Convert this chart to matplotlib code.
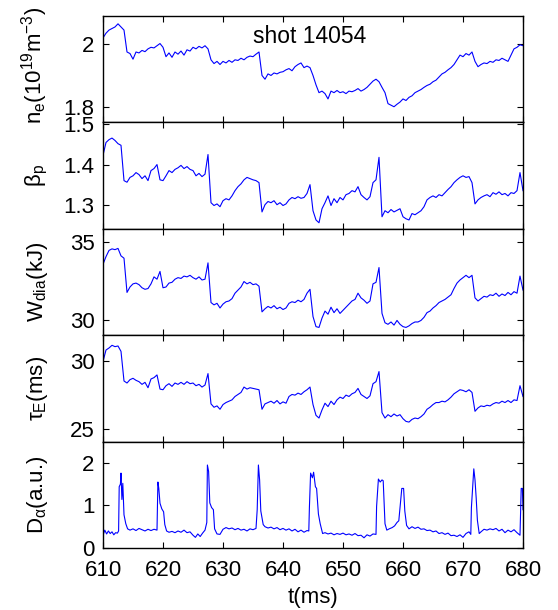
import numpy as np
import matplotlib
matplotlib.use("Agg")
import matplotlib.pyplot as plt

plt.rcParams['font.family'] = ['Liberation Sans', 'DejaVu Sans']
plt.rcParams['mathtext.fontset'] = 'custom'
plt.rcParams['mathtext.rm'] = 'Liberation Sans'
plt.rcParams['mathtext.it'] = 'Liberation Sans'
plt.rcParams['mathtext.default'] = 'regular'

# sampling times (ms) for the four smooth signals
t = np.arange(610.0, 680.01, 0.5)

ne = [2.020, 2.035, 2.045, 2.050, 2.055, 2.065, 2.055, 2.045, 1.975, 1.970,
      1.952, 1.975, 1.972, 1.980, 1.976, 1.985, 1.990, 1.988, 1.995, 2.002,
      1.990, 1.960, 1.972, 1.958, 1.975, 1.968, 1.978, 1.965, 1.982, 1.978,
      1.990, 1.985, 1.993, 1.988, 1.995, 1.985, 1.950, 1.938, 1.945, 1.935,
      1.945, 1.940, 1.948, 1.942, 1.950, 1.948, 1.955, 1.950, 1.958, 1.962,
      1.960, 1.968, 1.975, 1.900, 1.888, 1.905, 1.900, 1.908, 1.905, 1.910,
      1.912, 1.918, 1.922, 1.915, 1.928, 1.935, 1.940, 1.925, 1.930, 1.925,
      1.900, 1.870, 1.845, 1.850, 1.842, 1.825, 1.850, 1.845, 1.852, 1.845,
      1.848, 1.842, 1.850, 1.848, 1.852, 1.858, 1.850, 1.855, 1.862, 1.872,
      1.882, 1.888, 1.880, 1.862, 1.845, 1.810, 1.805, 1.800, 1.808, 1.815,
      1.825, 1.820, 1.830, 1.835, 1.845, 1.850, 1.855, 1.862, 1.868, 1.872,
      1.880, 1.885, 1.895, 1.905, 1.910, 1.918, 1.925, 1.935, 1.950, 1.965,
      1.960, 1.970, 1.965, 1.975, 1.945, 1.928, 1.935, 1.940, 1.938, 1.945,
      1.942, 1.950, 1.948, 1.955, 1.950, 1.945, 1.965, 1.985, 1.990, 1.998,
      1.995]

beta_p = [1.423, 1.455, 1.462, 1.466, 1.460, 1.452, 1.448, 1.360, 1.356, 1.368,
          1.372, 1.380, 1.375, 1.365, 1.372, 1.360, 1.385, 1.390, 1.400, 1.362,
          1.360, 1.372, 1.385, 1.380, 1.388, 1.392, 1.398, 1.390, 1.395, 1.388,
          1.385, 1.372, 1.378, 1.370, 1.376, 1.425, 1.305, 1.298, 1.302, 1.295,
          1.310, 1.315, 1.312, 1.322, 1.335, 1.345, 1.352, 1.362, 1.368, 1.365,
          1.362, 1.360, 1.355, 1.282, 1.300, 1.308, 1.305, 1.310, 1.300, 1.305,
          1.298, 1.302, 1.312, 1.318, 1.315, 1.320, 1.316, 1.318, 1.328, 1.350,
          1.285, 1.262, 1.255, 1.290, 1.305, 1.322, 1.298, 1.315, 1.305, 1.318,
          1.312, 1.325, 1.328, 1.335, 1.332, 1.345, 1.325, 1.318, 1.312, 1.320,
          1.355, 1.362, 1.418, 1.270, 1.285, 1.280, 1.288, 1.282, 1.286, 1.290,
          1.270, 1.265, 1.262, 1.278, 1.275, 1.280, 1.285, 1.295, 1.312, 1.318,
          1.322, 1.318, 1.325, 1.322, 1.330, 1.338, 1.345, 1.355, 1.362, 1.368,
          1.372, 1.368, 1.370, 1.355, 1.302, 1.312, 1.318, 1.322, 1.325, 1.320,
          1.330, 1.326, 1.332, 1.325, 1.328, 1.322, 1.330, 1.328, 1.335, 1.380,
          1.335]

w_dia = [33.56, 34.05, 34.45, 34.55, 34.50, 34.58, 34.10, 33.95, 31.75, 32.10,
         32.30, 32.35, 32.25, 32.05, 31.95, 32.00, 32.30, 32.75, 32.60, 33.10,
         32.05, 32.10, 32.35, 32.40, 32.60, 32.70, 32.65, 32.80, 32.75, 32.85,
         32.70, 32.60, 32.75, 32.55, 32.60, 33.65, 31.10, 30.95, 31.05, 30.75,
         31.00, 31.15, 31.20, 31.35, 31.70, 31.90, 32.10, 32.45, 32.30, 32.40,
         32.25, 32.30, 32.15, 30.50, 30.70, 30.85, 30.75, 30.90, 30.70, 30.80,
         30.65, 30.75, 31.05, 31.15, 31.10, 31.25, 31.15, 31.30, 31.70, 31.95,
         30.20, 29.55, 29.50, 30.10, 30.55, 30.35, 30.80, 30.45, 30.70, 30.40,
         30.60, 30.80, 31.00, 31.20, 31.30, 31.70, 31.40, 31.25, 31.05, 31.20,
         32.30, 32.40, 33.35, 30.40, 29.80, 29.70, 29.85, 29.65, 29.95, 29.70,
         29.55, 29.50, 29.60, 29.75, 29.85, 29.85, 29.95, 30.15, 30.45, 30.55,
         30.75, 30.90, 31.10, 31.20, 31.30, 31.45, 31.60, 32.00, 32.35, 32.55,
         32.70, 32.85, 32.70, 32.85, 31.40, 31.20, 31.35, 31.50, 31.45, 31.60,
         31.55, 31.70, 31.50, 31.65, 31.55, 31.75, 31.60, 31.80, 31.70, 32.80,
         31.90]

tau_e = [30.00, 30.85, 31.00, 31.20, 31.10, 31.15, 30.75, 28.55, 28.40, 28.65,
         28.75, 28.60, 28.50, 28.30, 28.45, 28.05, 28.70, 28.80, 29.00, 27.95,
         27.90, 28.20, 28.35, 28.15, 28.40, 28.30, 28.45, 28.30, 28.50, 28.35,
         28.40, 28.20, 28.30, 28.10, 28.25, 29.10, 26.85, 26.60, 26.70, 26.45,
         26.80, 26.95, 27.05, 27.15, 27.40, 27.55, 27.70, 28.10, 27.95, 28.05,
         28.00, 27.95, 27.90, 26.45, 26.85, 26.95, 27.05, 26.90, 27.10, 26.85,
         27.00, 26.90, 27.40, 27.55, 27.50, 27.65, 27.55, 27.75, 27.90, 28.10,
         26.80, 26.00, 25.80, 26.40, 26.90, 26.65, 27.05, 26.80, 27.15, 27.35,
         27.25, 27.50, 27.40, 27.60, 27.70, 28.00, 27.55, 27.40, 27.25, 27.45,
         28.35, 28.50, 29.25, 26.20, 25.80, 26.05, 25.90, 26.10, 25.95, 26.05,
         25.75, 25.55, 25.50, 25.70, 25.80, 25.75, 25.90, 26.10, 26.45, 26.60,
         26.80, 26.95, 26.95, 27.05, 27.00, 27.15, 27.35, 27.60, 27.75, 27.90,
         27.85, 27.75, 27.90, 27.70, 26.30, 26.55, 26.70, 26.65, 26.75, 26.70,
         26.85, 26.95, 26.90, 27.05, 26.95, 27.10, 26.95, 27.15, 27.10, 28.20,
         27.40]

t_da = [610.0, 610.3, 610.6, 610.9, 611.2, 611.5, 611.8, 612.1, 612.4, 612.6,
        612.7, 612.9, 613.0, 613.15, 613.3, 613.5, 613.8, 614.1, 614.5, 615.0,
        615.5, 616.0, 616.5, 617.0, 617.5, 618.0, 618.5, 619.0, 619.15, 619.3,
        619.5, 619.8, 620.1, 620.3, 620.6, 621.0, 621.5, 622.0, 622.5, 623.0,
        623.5, 624.0, 624.5, 625.0, 625.4, 625.8, 626.2, 626.6, 627.0, 627.3,
        627.4, 627.6, 627.8, 628.1, 628.4, 628.6, 629.0, 629.5, 630.0, 630.5,
        631.0, 631.5, 632.0, 632.5, 633.0, 633.5, 634.0, 634.5, 635.0, 635.5,
        635.7, 635.9, 636.1, 636.3, 636.7, 637.0, 637.5, 638.0, 638.5, 639.0,
        639.5, 640.0, 640.5, 641.0, 641.5, 642.0, 642.5, 643.0, 643.5, 644.0,
        644.3, 644.4, 644.6, 644.9, 645.1, 645.4, 645.6, 645.9, 646.2, 646.6,
        647.0, 647.5, 648.0, 648.5, 649.0, 649.5, 650.0, 650.5, 651.0, 651.5,
        652.0, 652.5, 653.0, 653.5, 654.0, 654.5, 655.0, 655.5, 655.6, 655.9,
        656.2, 656.5, 656.7, 657.0, 657.3, 657.7, 658.2, 658.6, 659.0, 659.3,
        659.8, 660.1, 660.3, 660.6, 661.0, 661.5, 662.0, 662.5, 663.0, 663.5,
        664.0, 664.5, 665.0, 665.5, 666.0, 666.5, 667.0, 667.5, 668.0, 668.5,
        669.0, 669.5, 670.0, 670.5, 671.0, 671.3, 671.4, 671.8, 672.0, 672.2,
        672.4, 672.7, 673.0, 673.5, 674.0, 674.5, 675.0, 675.5, 676.0, 676.5,
        677.0, 677.5, 678.0, 678.5, 679.0, 679.5, 679.7, 679.9, 680.0]

d_alpha = [0.30, 0.42, 0.33, 0.40, 0.34, 0.38, 0.31, 0.36, 0.35, 0.40,
           1.44, 1.50, 1.76, 1.14, 1.52, 0.78, 0.57, 0.45, 0.42, 0.45,
           0.41, 0.46, 0.43, 0.40, 0.44, 0.41, 0.44, 0.42, 1.55, 1.40,
           1.05, 0.92, 0.85, 0.55, 0.40, 0.37, 0.39, 0.36, 0.40, 0.37,
           0.42, 0.36, 0.38, 0.30, 0.25, 0.33, 0.27, 0.35, 0.42, 0.60,
           1.95, 1.80, 1.06, 0.95, 0.90, 0.45, 0.33, 0.32, 0.44, 0.48,
           0.45, 0.47, 0.43, 0.46, 0.42, 0.44, 0.40, 0.45, 0.43, 0.46,
           0.90, 1.95, 1.60, 0.87, 0.55, 0.50, 0.47, 0.49, 0.45, 0.48,
           0.43, 0.46, 0.42, 0.45, 0.40, 0.44, 0.38, 0.42, 0.37, 0.41,
           0.40, 0.95, 1.76, 1.65, 1.78, 1.44, 1.40, 0.80, 0.57, 0.34,
           0.36, 0.33, 0.35, 0.31, 0.34, 0.32, 0.35, 0.31, 0.33, 0.30,
           0.34, 0.29, 0.30, 0.24, 0.31, 0.28, 0.33, 0.32, 0.98, 1.62,
           1.55, 1.60, 1.58, 0.57, 0.42, 0.45, 0.48, 0.52, 0.60, 0.64,
           1.40, 1.40, 0.87, 0.53, 0.45, 0.50, 0.46, 0.49, 0.44, 0.45,
           0.41, 0.42, 0.38, 0.40, 0.34, 0.36, 0.32, 0.35, 0.29, 0.30,
           0.27, 0.31, 0.25, 0.34, 0.38, 0.32, 0.95, 1.86, 1.60, 1.17,
           0.65, 0.34, 0.38, 0.44, 0.42, 0.45, 0.43, 0.46, 0.40, 0.44,
           0.36, 0.42, 0.38, 0.43, 0.36, 0.30, 1.40, 1.40, 0.90]

x_ticks = [610, 620, 630, 640, 650, 660, 670, 680]
panels = [
    (t, ne, (1.75, 2.09), [1.8, 2.0], ['1.8', '2'], 'n$_e$(10$^{19}$m$^{-3}$)'),
    (t, beta_p, (1.24, 1.505), [1.3, 1.4, 1.5], ['1.3', '1.4', '1.5'], 'β$_p$'),
    (t, w_dia, (29.0, 35.84), [30, 35], ['30', '35'], 'W$_{dia}$(kJ)'),
    (t, tau_e, (24.05, 31.95), [25, 30], ['25', '30'], 'τ$_E$(ms)'),
    (t_da, d_alpha, (0, 2.5), [0, 1, 2], ['0', '1', '2'], 'D$_α$(a.u.)'),
]
shot_label = 'shot 14054'
x_label = 't(ms)'

fig = plt.figure(figsize=(5.58, 6.10), dpi=100)
left, width = 103 / 558, 420 / 558
top_px, h_px = 16, 106.4
FS = 16
for i, (tx, y, ylim, yt, ytl, lab) in enumerate(panels):
    bottom = 1 - (top_px + (i + 1) * h_px) / 610
    ax = fig.add_axes([left, bottom, width, h_px / 610])
    ax.plot(tx, y, color='#0000ff', lw=0.8)
    ax.set_xlim(610, 680)
    ax.set_ylim(*ylim)
    ax.set_xticks(x_ticks)
    ax.set_yticks(yt)
    ax.set_yticklabels(ytl)
    ax.tick_params(direction='in', top=True, right=True, length=4, width=0.8,
                   labelsize=FS)
    ax.tick_params(axis='y', pad=6)
    ax.tick_params(axis='x', pad=9)
    for s in ax.spines.values():
        s.set_linewidth(1.0)
    if i < 4:
        ax.set_xticklabels([])
    else:
        ax.set_xticklabels([str(v) for v in x_ticks])
        ax.set_xlabel(x_label, fontsize=FS, labelpad=4)
    ax.set_ylabel(lab, fontsize=FS)
    ax.yaxis.set_label_coords(-0.126, 0.54 if i == 0 else 0.5)
    if i == 0:
        ax.text(635.0, 2.004, shot_label, fontsize=16.5, ha='left', va='baseline')

fig.savefig('out.png', dpi=100)
